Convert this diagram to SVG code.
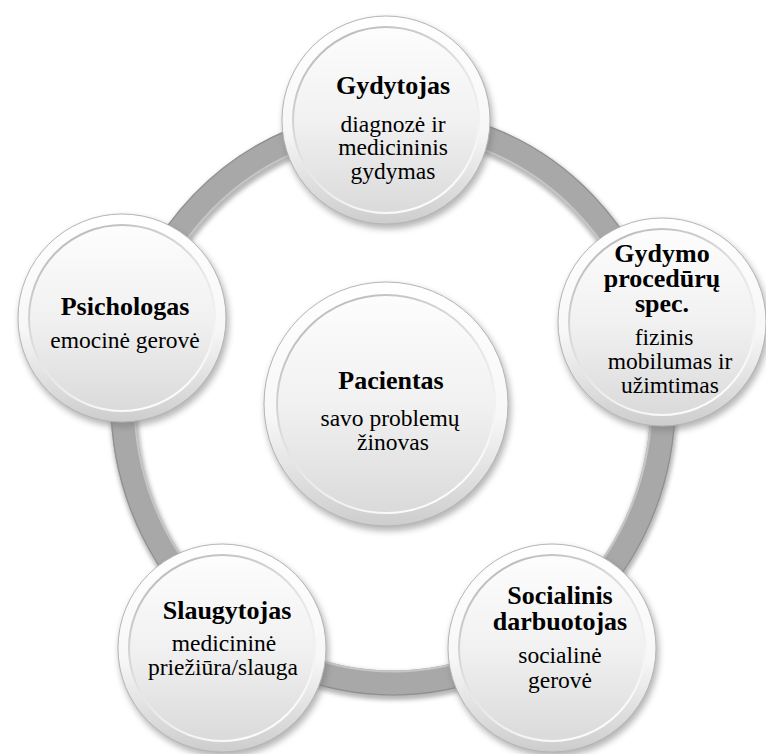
<svg xmlns="http://www.w3.org/2000/svg" width="766" height="754" viewBox="0 0 766 754">
  <defs>
    <!-- raised white rim of each button -->
    <linearGradient id="rimFill" x1="0" y1="0" x2="0" y2="1">
      <stop offset="0" stop-color="#ffffff"/>
      <stop offset="0.55" stop-color="#f7f7f7"/>
      <stop offset="1" stop-color="#cdcdcd"/>
    </linearGradient>
    <!-- recessed face -->
    <linearGradient id="faceFill" x1="0" y1="0" x2="0" y2="1">
      <stop offset="0" stop-color="#fdfdfd"/>
      <stop offset="0.5" stop-color="#f1f1f1"/>
      <stop offset="1" stop-color="#dadada"/>
    </linearGradient>
    <linearGradient id="faceEdge" x1="0.2" y1="0" x2="0.8" y2="1">
      <stop offset="0" stop-color="#b8b8b8"/>
      <stop offset="0.5" stop-color="#e6e6e6"/>
      <stop offset="1" stop-color="#ffffff"/>
    </linearGradient>
    <filter id="soft" x="-20%" y="-20%" width="140%" height="140%">
      <feGaussianBlur stdDeviation="3"/>
    </filter>
    <filter id="ringShadow" x="-10%" y="-10%" width="120%" height="120%">
      <feGaussianBlur stdDeviation="2"/>
    </filter>
    <style>
      .shadow { fill: #7a7a7a; opacity: 0.55; filter: url(#soft); }
      .rim { fill: url(#rimFill); stroke: #b5b5b5; stroke-width: 1; }
      .face { fill: url(#faceFill); stroke: url(#faceEdge); stroke-width: 2; }
      text { font-family: "Liberation Serif", "Times New Roman", serif; fill: #000; text-anchor: middle; }
      .t { font-weight: bold; font-size: 26px; }
      .b { font-size: 23.5px; }
    </style>
  </defs>

  <rect width="766" height="754" fill="#ffffff"/>

  <!-- connecting ring -->
  <g id="connectors">
    <ellipse cx="393" cy="402" rx="270" ry="281" fill="none" stroke="#6e6e6e" stroke-width="28" opacity="0.5" filter="url(#ringShadow)" transform="translate(1,3)"/>
    <ellipse cx="393" cy="402" rx="270" ry="281" fill="none" stroke="#a8a8a8" stroke-width="25"/>
    <ellipse cx="393" cy="402" rx="258.5" ry="269.5" fill="none" stroke="#c6c6c6" stroke-width="2"/>
    <ellipse cx="393" cy="402" rx="282" ry="293" fill="none" stroke="#8f8f8f" stroke-width="1.2"/>
  </g>

  <!-- centre -->
  <g id="node-pacientas">
    <circle class="shadow" cx="388" cy="408" r="123"/>
    <circle class="rim" cx="386" cy="404" r="122"/>
    <circle class="face" cx="386" cy="404" r="109"/>
    <text class="t" x="391" y="389">Pacientas</text>
    <text class="b" x="390" y="426">savo problemų</text>
    <text class="b" x="393" y="450">žinovas</text>
  </g>

  <g id="node-gydytojas">
    <circle class="shadow" cx="388" cy="124" r="105"/>
    <circle class="rim" cx="386" cy="120" r="104"/>
    <circle class="face" cx="386" cy="120" r="93"/>
    <text class="t" x="393" y="94">Gydytojas</text>
    <text class="b" x="393" y="132">diagnozė ir</text>
    <text class="b" x="393" y="155">medicininis</text>
    <text class="b" x="393" y="179">gydymas</text>
  </g>

  <g id="node-gydymo-spec">
    <circle class="shadow" cx="664" cy="326" r="105"/>
    <circle class="rim" cx="662" cy="322" r="104"/>
    <circle class="face" cx="662" cy="322" r="93"/>
    <text class="t" x="662" y="262">Gydymo</text>
    <text class="t" x="662" y="287">procedūrų</text>
    <text class="t" x="662" y="312">spec.</text>
    <text class="b" x="664" y="345">fizinis</text>
    <text class="b" x="670" y="369">mobilumas ir</text>
    <text class="b" x="670" y="393">užimtimas</text>
  </g>

  <g id="node-psichologas">
    <circle class="shadow" cx="124" cy="322" r="105"/>
    <circle class="rim" cx="122" cy="318" r="104"/>
    <circle class="face" cx="122" cy="318" r="93"/>
    <text class="t" x="125" y="315">Psichologas</text>
    <text class="b" x="125" y="348">emocinė gerovė</text>
  </g>

  <g id="node-slaugytojas">
    <circle class="shadow" cx="224" cy="652" r="105"/>
    <circle class="rim" cx="222" cy="648" r="104"/>
    <circle class="face" cx="222" cy="648" r="93"/>
    <text class="t" x="227" y="619">Slaugytojas</text>
    <text class="b" x="224" y="651">medicininė</text>
    <text class="b" x="223" y="675">priežiūra/slauga</text>
  </g>

  <g id="node-socialinis">
    <circle class="shadow" cx="554" cy="652" r="105"/>
    <circle class="rim" cx="552" cy="648" r="104"/>
    <circle class="face" cx="552" cy="648" r="93"/>
    <text class="t" x="560" y="604">Socialinis</text>
    <text class="t" x="560" y="630">darbuotojas</text>
    <text class="b" x="560" y="663">socialinė</text>
    <text class="b" x="560" y="688">gerovė</text>
  </g>
</svg>
